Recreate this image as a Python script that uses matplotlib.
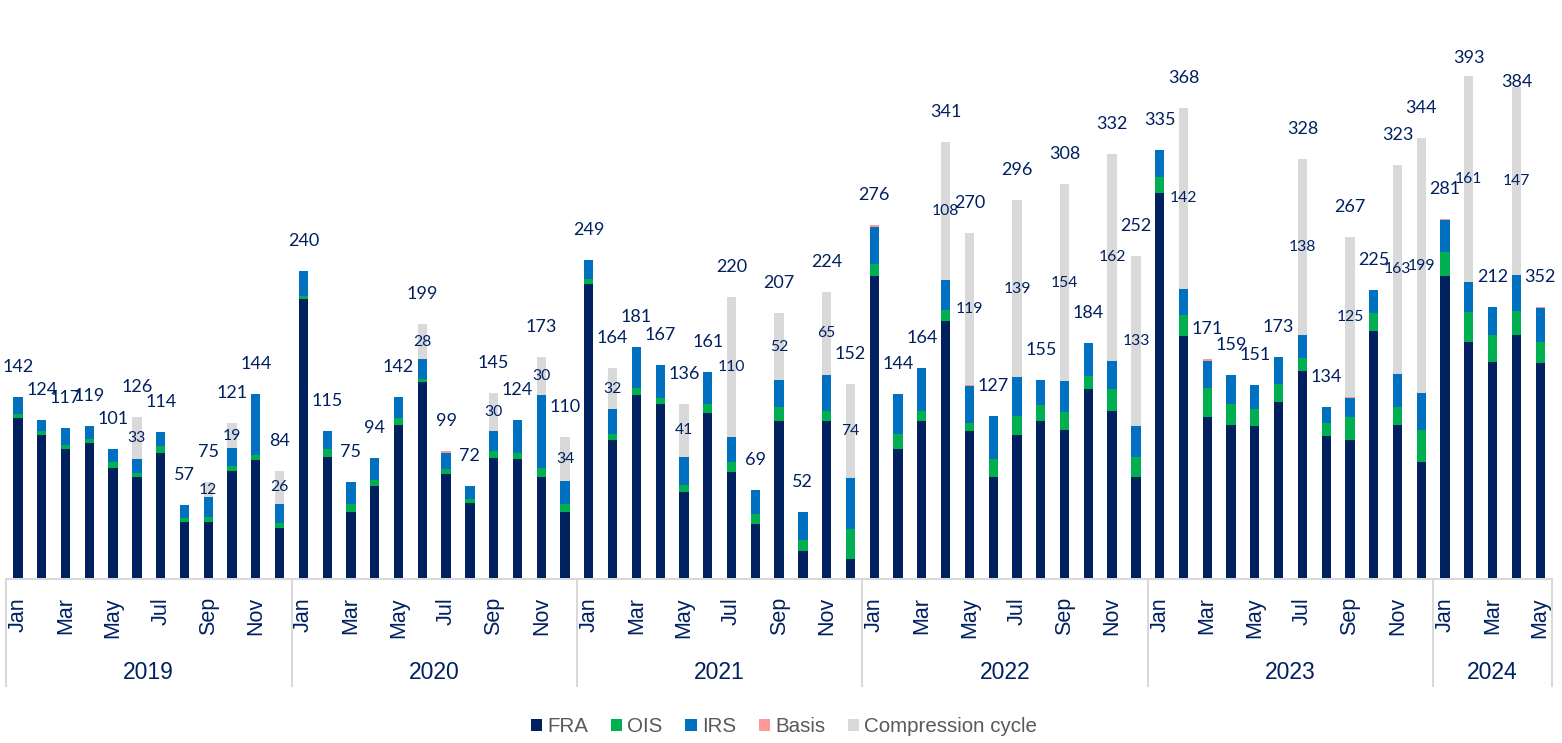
import numpy as np
import matplotlib.pyplot as plt
from matplotlib.patches import Patch
from matplotlib import transforms

# monthly trade counts, Jan 2019 - May 2024
years = [2019] * 12 + [2020] * 12 + [2021] * 12 + [2022] * 12 + [2023] * 12 + [2024] * 5
months = ['Jan', 'Feb', 'Mar', 'Apr', 'May', 'Jun', 'Jul', 'Aug', 'Sep', 'Oct', 'Nov', 'Dec'] * 5 \
    + ['Jan', 'Feb', 'Mar', 'Apr', 'May']

fra = [125, 112, 101, 106, 86, 79, 98, 44, 44, 84, 92, 39,
       218, 95, 52, 72, 120, 153, 81, 59, 94, 93, 79, 52,
       230, 108, 143, 136, 67, 129, 83, 42, 123, 21, 123, 15,
       236, 101, 123, 201, 115, 79, 112, 123, 116, 148, 131, 79,
       301, 189, 126, 120, 119, 138, 162, 111, 108, 193, 120, 91,
       236, 185, 169, 190, 168]
ois = [3, 3, 3, 3, 5, 3, 5, 3, 4, 4, 4, 4,
       3, 6, 6, 5, 5, 3, 4, 3, 5, 5, 7, 6,
       4, 5, 6, 5, 6, 7, 8, 8, 11, 9, 8, 23,
       10, 12, 8, 9, 6, 14, 15, 12, 14, 10, 17, 16,
       13, 17, 23, 16, 13, 14, 10, 10, 18, 14, 14, 25,
       19, 23, 21, 19, 17]
irs = [14, 9, 13, 10, 10, 11, 11, 10, 15, 14, 48, 15,
       19, 14, 17, 17, 17, 15, 13, 10, 16, 26, 57, 18,
       15, 19, 32, 26, 22, 25, 19, 19, 21, 22, 28, 40,
       29, 31, 33, 23, 29, 34, 30, 20, 24, 26, 22, 24,
       21, 20, 21, 23, 19, 21, 18, 13, 15, 18, 26, 29,
       25, 24, 22, 28, 26]
basis = [0, 0, 0, 0, 0, 0, 0, 0, 0, 0, 0, 0,
         0, 0, 0, 0, 0, 0, 1, 0, 0, 0, 0, 0,
         0, 0, 0, 0, 0, 0, 0, 0, 0, 0, 0, 0,
         1, 0, 0, 0, 1, 0, 0, 0, 0, 0, 0, 0,
         0, 0, 1, 0, 0, 0, 0, 0, 1, 0, 0, 0,
         1, 0, 0, 0, 1]
compression = [0, 0, 0, 0, 0, 33, 0, 0, 12, 19, 0, 26,
               0, 0, 0, 0, 0, 28, 0, 0, 30, 0, 30, 34,
               0, 32, 0, 0, 41, 0, 110, 0, 52, 0, 65, 74,
               0, 0, 0, 108, 119, 0, 139, 0, 154, 0, 162, 133,
               0, 142, 0, 0, 0, 0, 138, 0, 125, 0, 163, 199,
               0, 161, 0, 147, 0]
total_labels = [142, 124, 117, 119, 101, 126, 114, 57, 75, 121, 144, 84,
                240, 115, 75, 94, 142, 199, 99, 72, 145, 124, 173, 110,
                249, 164, 181, 167, 136, 161, 220, 69, 207, 52, 224, 152,
                276, 144, 164, 341, 270, 127, 296, 155, 308, 184, 332, 252,
                335, 368, 171, 159, 151, 173, 328, 134, 267, 225, 323, 344,
                281, 393, 212, 384, 352]

navy = '#002060'
series = [('FRA', fra, '#002060'), ('OIS', ois, '#00B050'), ('IRS', irs, '#0070C0'),
          ('Basis', basis, '#FF9999'), ('Compression cycle', compression, '#D9D9D9')]

W, H = 1562, 743
px_per_unit = 1.278
fig = plt.figure(figsize=(W / 100, H / 100), dpi=100)
ax = fig.add_axes([6.1 / W, 165 / H, 1546 / W, 578 / H])
n = len(fra)
x = np.arange(n)
ax.set_xlim(-0.5, n - 0.5)
ax.set_ylim(0, 578 / px_per_unit)
ax.axis('off')

bottom = np.zeros(n)
for name, vals, col in series:
    vals = np.array(vals, dtype=float)
    if name == 'Compression cycle':
        comp_mid = bottom + vals / 2
    ax.bar(x, vals, 0.39, bottom=bottom, color=col, linewidth=0, zorder=2)
    bottom += vals

num_font = ['Lato', 'DejaVu Sans']
# labels near the top get squeezed down in the original
label_gap = {61: 18, 63: 5}
for i in range(n):
    gap = label_gap.get(i, 30) * 0.72
    ax.annotate(str(total_labels[i]), (i, bottom[i]), xytext=(0, gap), textcoords='offset points',
                ha='center', va='center', fontsize=13, color=navy, family=num_font,
                annotation_clip=False)
    if compression[i] > 0:
        ax.text(i, comp_mid[i], str(compression[i]), ha='center', va='center',
                fontsize=11.3, color=navy, family=num_font, zorder=3)

# category axis
trans = transforms.blended_transform_factory(ax.transData, fig.transFigure)


def fy(py):
    return 1 - py / H


ax.plot([-0.5, n - 0.5], [fy(579)] * 2, transform=trans, color='#D9D9D9', lw=1.5, clip_on=False, zorder=1)
bounds = [-0.5] + [i - 0.5 for i in range(1, n) if years[i] != years[i - 1]] + [n - 0.5]
for b in bounds:
    ax.plot([b, b], [fy(579), fy(686)], transform=trans, color='#D9D9D9', lw=1.5, clip_on=False)

axis_font = ['Liberation Sans', 'DejaVu Sans']
for i in range(0, n, 2):
    ax.text(i, fy(597), months[i], transform=trans, rotation=90, ha='center', va='top',
            fontsize=15.5, color=navy, family=axis_font)
for yr in sorted(set(years)):
    idx = [i for i in range(n) if years[i] == yr]
    ax.text(np.mean(idx), fy(679), str(yr), transform=trans, ha='center', va='baseline',
            fontsize=16.5, color=navy, family=axis_font)

handles = [Patch(facecolor=col, edgecolor='none', label=name) for name, _, col in series]
fig.legend(handles=handles, loc='center', bbox_to_anchor=(784 / W, fy(727)), ncol=5, frameon=False,
           prop={'family': axis_font, 'size': 14.8}, labelcolor='#595959',
           handlelength=0.55, handleheight=0.55, handletextpad=0.25, columnspacing=1.1)

fig.savefig('out.png', dpi=100)
